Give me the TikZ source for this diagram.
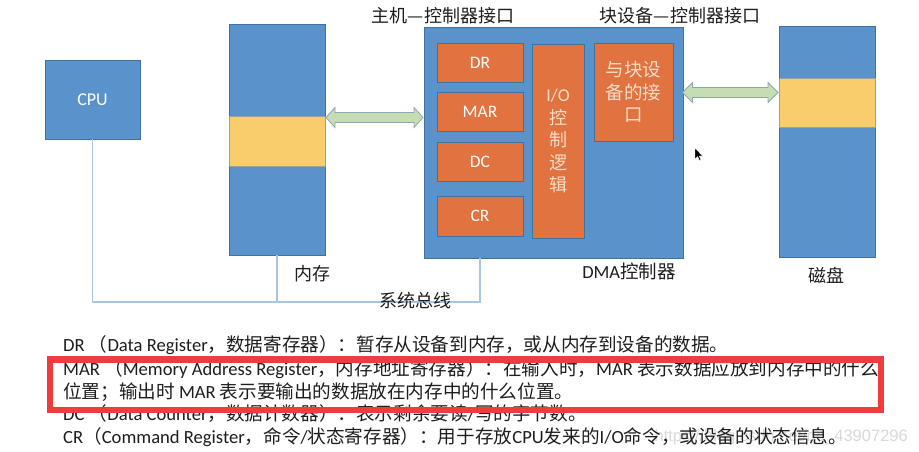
\documentclass[tikz,border=0pt]{standalone}
\usepackage{fontspec}
\setmainfont{Carlito}
\newfontfamily\cjk{Noto Sans CJK SC}
\newfontfamily\wmfont{Liberation Sans}
\usetikzlibrary{calc}
\definecolor{boxblue}{HTML}{5A93CB}
\definecolor{edgeblue}{HTML}{41719C}
\definecolor{boxorange}{HTML}{E0733F}
\definecolor{boxyellow}{HTML}{F9CD6B}
\definecolor{arrowgreen}{HTML}{C6DDB3}
\definecolor{arrowedge}{HTML}{8EA6B4}
\definecolor{busblue}{HTML}{A9C5E6}
\definecolor{markred}{HTML}{F03C3C}
\definecolor{paletext}{HTML}{F9DCC8}
\definecolor{txt}{HTML}{1E1E1E}
\newcommand{\zh}[1]{{\cjk #1}}
\newcommand{\dblarrow}[3]{% #1 left tip, #2 right tip, #3 head length
  \draw[blockarrow] let \p1=(#1), \p2=(#2) in
    (\x1,\y1) -- (\x1+#3,\y1+10pt) -- (\x1+#3,\y1+5pt) -- (\x2-#3,\y1+5pt)
    -- (\x2-#3,\y1+10pt) -- (\x2,\y1) -- (\x2-#3,\y1-10pt) -- (\x2-#3,\y1-5pt)
    -- (\x1+#3,\y1-5pt) -- (\x1+#3,\y1-10pt) -- cycle;}
\begin{document}
\begin{tikzpicture}[x=1pt,y=-1pt,
  blk/.style={draw=edgeblue,line width=0.8pt,inner sep=0pt,outer sep=0pt,anchor=north west},
  bluebox/.style={blk,fill=boxblue},
  orangebox/.style={blk,fill=boxorange,text=white,font=\fontsize{17.5}{20}\selectfont},
  yellowbox/.style={blk,fill=boxyellow,draw=gray!75},
  bus/.style={draw=busblue,line width=1.3pt},
  blockarrow/.style={fill=arrowgreen,draw=arrowedge,line width=0.8pt,line join=miter},
  lbl/.style={anchor=base,text=txt,font=\cjk\fontsize{18}{22}\selectfont,inner sep=0pt},
  desc/.style={anchor=base west,text=txt,font=\fontsize{18.6}{22}\selectfont,inner sep=0pt}
]
\useasboundingbox (0,0) rectangle (919,452);
\fill[white] (0,0) rectangle (919,452);

% boxes and bus
\node[bluebox,minimum width=95pt,minimum height=79pt,text=white,font=\fontsize{18}{20}\selectfont] (cpu) at (45,60) {CPU};
\node[bluebox,minimum width=96pt,minimum height=231pt] (mem) at (229,24) {};
\node[yellowbox,minimum width=96pt,minimum height=50pt] (memy) at (229,116) {};
\node[bluebox,minimum width=259pt,minimum height=231pt] (dma) at (424,27) {};
\coordinate (dmab) at ($(dma.south west)+(56,0)$);
\draw[bus] (cpu.south) |- ($(dmab)+(0,44)$) -- (dmab);
\draw[bus] (mem.south) -- ($(mem.south)+(0,46)$);

\node[orangebox,minimum width=86pt,minimum height=39pt] (dr) at (437,43) {DR};
\node[orangebox,minimum width=86pt,minimum height=39pt] (mar) at (437,92) {MAR};
\node[orangebox,minimum width=86pt,minimum height=39pt] (dc) at (437,142) {DC};
\node[orangebox,minimum width=86pt,minimum height=40pt] (cr) at (437,196) {CR};
\node[orangebox,minimum width=52pt,minimum height=194pt,text=paletext,align=center,
  font=\cjk\fontsize{18}{22.5}\selectfont] (io) at (532,44) {{\rmfamily I/O}\\控\\制\\逻\\辑};
\node[orangebox,minimum width=79pt,minimum height=98pt,text=paletext,align=center,
  font=\cjk\fontsize{18.5}{22.5}\selectfont] (itf) at (594,43) {与块设\\备的接\\口};
\node[bluebox,minimum width=96pt,minimum height=231pt] (disk) at (779,26) {};
\node[yellowbox,minimum width=96pt,minimum height=49pt] (disky) at (779,78) {};

% block arrows
\coordinate (a1l) at ($(mem.east |- 0,117.5)+(1,0)$);
\coordinate (a1r) at ($(dma.west |- 0,117.5)+(-1,0)$);
\coordinate (a2l) at ($(dma.east |- 0,92.5)+(-0.5,0)$);
\coordinate (a2r) at ($(disk.west |- 0,92.5)+(-1,0)$);
\dblarrow{a1l}{a1r}{9pt}
\dblarrow{a2l}{a2r}{10pt}

% labels
\node[lbl] (t1) at (443,23) {主机—控制器接口};
\node[lbl] (t2) at (680,23) {块设备—控制器接口};
\node[lbl] (lmem) at (312,280) {内存};
\node[lbl] (lbus) at (415,307) {系统总线};
\node[lbl,font=\fontsize{18.5}{22}\selectfont] (ldma) at (629,278) {DMA\zh{控制器}};
\node[lbl] (ldisk) at (826,282) {磁盘};

% cursor
\filldraw[fill=black,draw=white,line width=0.4pt,shift={(695,148)}]
  (0,0) -- (0,11) -- (2.6,8.6) -- (4.4,12.4) -- (6,11.7) -- (4.2,8) -- (7.6,8) -- cycle;

% watermark
\node[anchor=base east,text=black!15,font=\wmfont\fontsize{16.5}{18}\selectfont,inner sep=0pt] (wm) at (908,441) {https://blog.csdn.net/qq\_43907296};

% description
\node[desc] (l1) at (63,351) {DR \zh{（}Data Register\zh{，数据寄存器）：暂存从设备到内存，或从内存到设备的数据。}};
\node[desc] (l2) at (63,375) {MAR \zh{（}Memory Address Register\zh{，内存地址寄存器）：在输入时，}MAR \zh{表示数据应放到内存中的什么}};
\node[desc] (l3) at (63,398) {\zh{位置；输出时} MAR \zh{表示要输出的数据放在内存中的什么位置。}};
\node[desc] (l4) at (63,420) {DC \zh{（}Data Counter\zh{，数据计数器）：表示剩余要读}/\zh{写的字节数。}};
\node[desc] (l5) at (63,443) {CR\zh{（}Command Register\zh{，命令}/\zh{状态寄存器）：用于存放}CPU\zh{发来的}I/O\zh{命令，或设备的状态信息。}};

% highlight
\node[draw=markred,line width=6.5pt,minimum width=831pt,minimum height=50.5pt,inner sep=0pt,anchor=north west] (hl) at (46.5,356) {};
\end{tikzpicture}
\end{document}
